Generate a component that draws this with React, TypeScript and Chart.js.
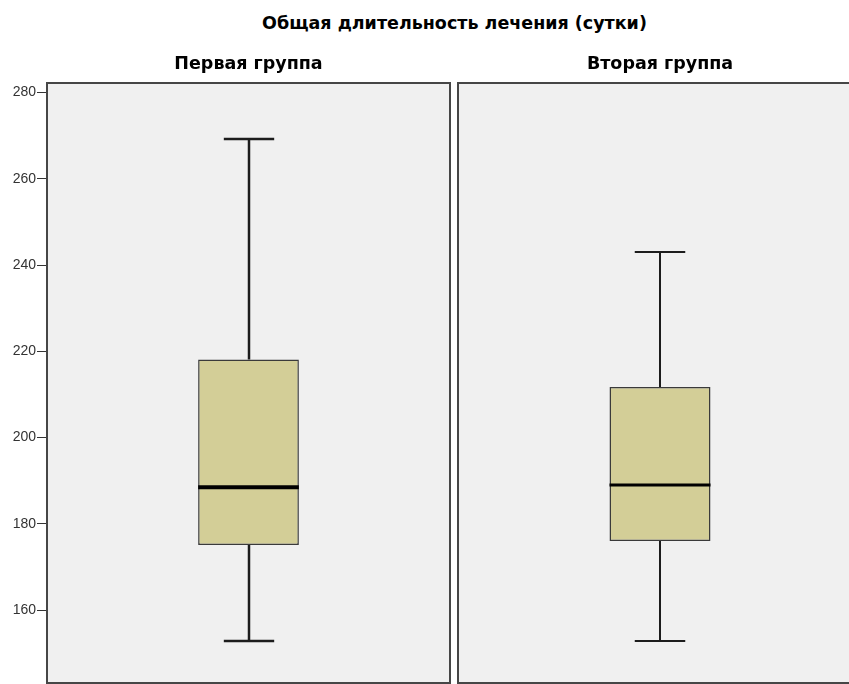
import React, { useEffect, useRef } from 'react';
import { Chart, registerables } from 'chart.js';

Chart.register(...registerables);

// ---- data ----
const chartTitle = 'Общая длительность лечения (сутки)';
const groups = ['Первая группа', 'Вторая группа'];
const whiskerLow = [152.9, 152.9];
const q1 = [175.1, 176.0];
const medians = [188.5, 189.0];
const q3 = [218.1, 211.7];
const whiskerHigh = [269.2, 243.1];
const yTicks = [160, 180, 200, 220, 240, 260, 280];
const yMin = 143.1;
const yMax = 282.2;

// ---- style ----
const FONT = '"Liberation Sans", Arial, Helvetica, sans-serif';
const TITLE_FONT = '"DejaVu Sans", "Liberation Sans", Arial, sans-serif';
const PANEL_BG = '#f0f0f0';
const PANEL_BORDER = '#464646';
const BOX_FILL = '#d3ce97';
const BOX_BORDER = '#3a3a3a';
const LINE = '#1c1c1c';
const CANVAS_H = 684;

const boxPlugin = {
  id: 'boxExtras',
  beforeDatasetsDraw(chart: any) {
    const { ctx, chartArea: a } = chart;
    ctx.save();
    ctx.fillStyle = PANEL_BG;
    ctx.fillRect(a.left, a.top, a.right - a.left, a.bottom - a.top);
    ctx.restore();
  },
  afterDatasetsDraw(chart: any, _args: any, opts: any) {
    const i = opts.index;
    const { ctx } = chart;
    const el = chart.getDatasetMeta(0).data[0];
    const y = chart.scales.y;
    const cx = Math.round(el.x);
    const w = el.width;
    const capHalf = w / 4;
    const line = (x1: number, y1: number, x2: number, y2: number, lw: number) => {
      ctx.beginPath();
      ctx.lineWidth = lw;
      ctx.moveTo(x1, y1);
      ctx.lineTo(x2, y2);
      ctx.stroke();
    };
    ctx.save();
    ctx.strokeStyle = LINE;
    ctx.lineCap = 'butt';
    const yHi = Math.round(y.getPixelForValue(whiskerHigh[i]));
    const yLo = Math.round(y.getPixelForValue(whiskerLow[i]));
    const yQ1 = y.getPixelForValue(q1[i]);
    const yQ3 = y.getPixelForValue(q3[i]);
    const yMed = y.getPixelForValue(medians[i]);
    // whiskers
    line(cx, yQ3, cx, yHi, opts.whiskerWidth);
    line(cx, yQ1, cx, yLo, opts.whiskerWidth);
    // caps
    line(cx - capHalf, yHi, cx + capHalf, yHi, opts.whiskerWidth);
    line(cx - capHalf, yLo, cx + capHalf, yLo, opts.whiskerWidth);
    // median
    ctx.strokeStyle = '#000';
    line(el.x - w / 2, yMed, el.x + w / 2, yMed, opts.medianWidth);
    ctx.restore();
  },
  afterDraw(chart: any) {
    const { ctx, chartArea: a } = chart;
    ctx.save();
    ctx.strokeStyle = PANEL_BORDER;
    ctx.lineWidth = 2;
    ctx.strokeRect(a.left, a.top, a.right - a.left, a.bottom - a.top);
    ctx.restore();
  },
};

function Panel(props: {
  index: number;
  left: number;
  width: number;
  showAxis: boolean;
  padLeft: number;
  padRight: number;
  medianWidth: number;
  whiskerWidth: number;
  boxBorderWidth: number;
}) {
  const ref = useRef<HTMLCanvasElement>(null);
  useEffect(() => {
    const i = props.index;
    const chart = new Chart(ref.current as HTMLCanvasElement, {
      type: 'bar',
      data: {
        labels: [groups[i]],
        datasets: [
          {
            data: [[q1[i], q3[i]]] as any,
            backgroundColor: BOX_FILL,
            borderColor: BOX_BORDER,
            borderWidth: props.boxBorderWidth,
            borderSkipped: false,
            barPercentage: 0.25,
            categoryPercentage: 1,
          },
        ],
      },
      options: {
        animation: false,
        responsive: false,
        events: [],
        layout: { padding: { left: props.padLeft, right: props.padRight, top: 0, bottom: 1 } },
        plugins: {
          legend: { display: false },
          tooltip: { enabled: false },
          title: {
            display: true,
            fullSize: false,
            text: groups[i],
            color: '#000',
            font: { family: TITLE_FONT, size: 17.5, weight: 'bold', lineHeight: '16px' } as any,
            padding: { top: 56, bottom: 11 },
          },
          boxExtras: { index: i, medianWidth: props.medianWidth, whiskerWidth: props.whiskerWidth },
        } as any,
        scales: {
          x: { type: 'category', display: false, offset: true },
          y: {
            type: 'linear',
            display: props.showAxis,
            min: yMin,
            max: yMax,
            afterBuildTicks: (s: any) => {
              s.ticks = yTicks.map((v) => ({ value: v }));
            },
            afterFit: (s: any) => {
              if (props.showAxis) {
                s.width = 47;
                s.paddingTop = 0;
                s.paddingBottom = 0;
              }
            },
            ticks: { font: { family: FONT, size: 14 }, color: '#333', padding: 1 },
            grid: { drawOnChartArea: false, drawTicks: true, tickLength: 10, color: '#333', lineWidth: 1 },
            border: { display: false },
          } as any,
        },
      },
      plugins: [boxPlugin],
    });
    return () => chart.destroy();
  }, []);
  return (
    <canvas
      ref={ref}
      width={props.width}
      height={CANVAS_H}
      style={{ position: 'absolute', left: props.left, top: 0, width: props.width, height: CANVAS_H, display: 'block' }}
    />
  );
}

export default function App() {
  return (
    <div
      style={{
        position: 'fixed',
        left: 0,
        top: 0,
        width: 849,
        height: 684,
        overflow: 'hidden',
        background: '#fff',
      }}
    >
      <div
        style={{
          position: 'absolute',
          left: 47,
          top: 13,
          width: 815,
          textAlign: 'center',
          fontFamily: TITLE_FONT,
          fontWeight: 'bold',
          fontSize: 17.5,
          lineHeight: '20px',
          color: '#000',
          whiteSpace: 'nowrap',
        }}
      >
        {chartTitle}
      </div>
      <Panel index={0} left={0} width={452} showAxis={true} padLeft={0} padRight={2} medianWidth={4} whiskerWidth={2.5} boxBorderWidth={1.5} />
      <Panel index={1} left={456} width={410} showAxis={false} padLeft={2} padRight={4} medianWidth={3} whiskerWidth={2} boxBorderWidth={1.5} />
    </div>
  );
}
